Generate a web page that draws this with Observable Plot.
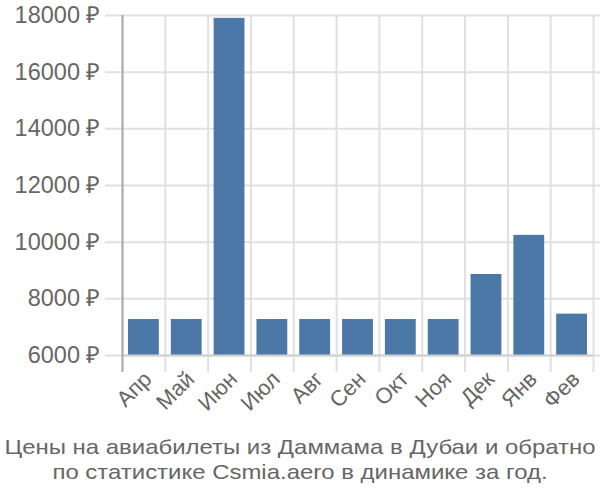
<!DOCTYPE html>
<html>
<head>
<meta charset="utf-8">
<script src="https://cdn.jsdelivr.net/npm/d3@7"></script>
<script src="https://cdn.jsdelivr.net/npm/@observablehq/plot@0.6"></script>
<style>
  body { margin: 0; background: #fff; font-family: "Liberation Sans", Arial, sans-serif; }
  #chart { width: 600px; height: 420px; }
  .caption { width: 600px; text-align: center; color: #666; font-size: 21px; line-height: 25px; margin-top: 14px; transform: scaleX(1.14); transform-origin: 300px 0; }
</style>
</head>
<body>
<div id="chart"></div>
<div class="caption">Цены на авиабилеты из Даммама в Дубаи и обратно<br>по статистике Csmia.aero в динамике за год.</div>
<script>
const months = ["Апр", "Май", "Июн", "Июл", "Авг", "Сен", "Окт", "Ноя", "Дек", "Янв", "Фев"];
const prices = [7270, 7270, 17900, 7270, 7270, 7270, 7270, 7270, 8860, 10240, 7460];
const yTicks = [6000, 8000, 10000, 12000, 14000, 16000, 18000];
const yMin = 6000, yMax = 18000;

const data = months.map((m, i) => ({month: m, price: prices[i]}));

const W = 600, H = 420, mL = 122, mR = 7, mT = 15, mB = 65;
const step = (W - mL - mR) / months.length;

const plot = Plot.plot({
  width: W,
  height: H,
  marginLeft: mL,
  marginRight: mR,
  marginTop: mT,
  marginBottom: mB,
  style: {fontFamily: "Liberation Sans, Arial, sans-serif", color: "#666", background: "#fff"},
  x: {domain: months, paddingInner: 0.28, paddingOuter: 0.14, round: false, axis: null},
  y: {domain: [yMin, yMax], axis: null},
  marks: [
    Plot.ruleY(yTicks, {y: d => d, stroke: "#e0e0e0", strokeWidth: 2, insetLeft: -17, insetRight: -7}),
    Plot.ruleX(months, {x: d => d, dx: -step / 2, y1: yMax, y2: yMin, insetBottom: -17, stroke: "#e0e0e0", strokeWidth: 2}),
    Plot.ruleX(months.slice(-1), {x: d => d, dx: step / 2, y1: yMax, y2: yMin, insetBottom: -17, stroke: "#e0e0e0", strokeWidth: 2}),
    Plot.barY(data, {x: "month", y1: yMin, y2: "price", fill: "#4c78a8"}),
    Plot.ruleY([yMin], {stroke: "#d0d0d0", strokeWidth: 2}),
    Plot.ruleX(months.slice(0, 1), {x: d => d, dx: -step / 2, y1: yMax, y2: yMin, insetBottom: -17, stroke: "#aaa", strokeWidth: 2}),
    Plot.axisY(yTicks, {tickSize: 0, tickPadding: 22, tickFormat: d => d + " ₽", fontSize: 23.5, fill: "#666", label: null}),
    Plot.axisX({tickSize: 0, tickPadding: 20, dx: 4, tickRotate: -45, fontSize: 22, fill: "#666", label: null})
  ]
});
document.getElementById("chart").appendChild(plot);
</script>
</body>
</html>
